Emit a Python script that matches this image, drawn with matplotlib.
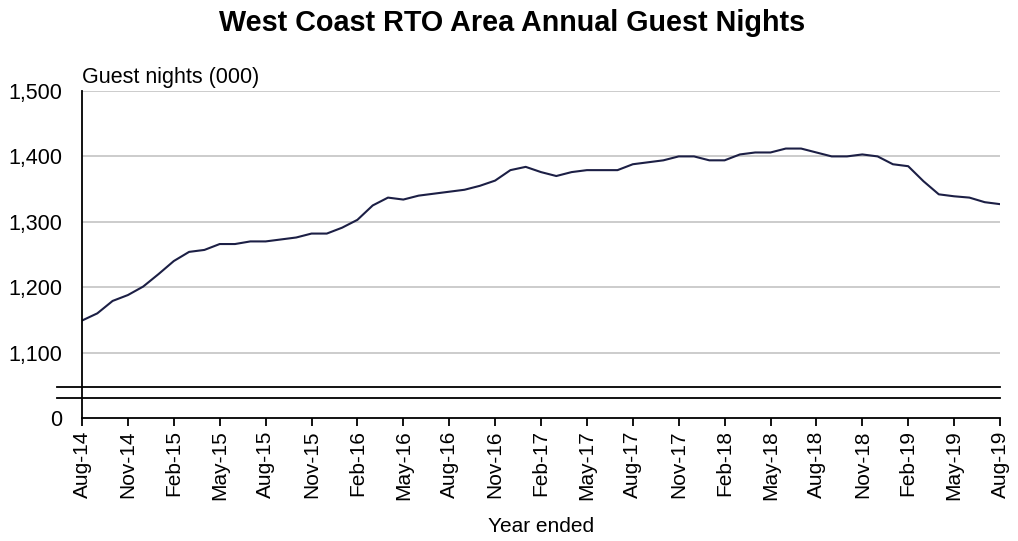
import matplotlib.pyplot as plt
import matplotlib.transforms as mtransforms

plt.rcParams['font.family'] = ['Liberation Sans', 'DejaVu Sans']

# monthly guest nights (000), year ended Aug-14 .. Aug-19
months = [
    "Aug-14", "Sep-14", "Oct-14", "Nov-14", "Dec-14", "Jan-15", "Feb-15", "Mar-15",
    "Apr-15", "May-15", "Jun-15", "Jul-15", "Aug-15", "Sep-15", "Oct-15", "Nov-15",
    "Dec-15", "Jan-16", "Feb-16", "Mar-16", "Apr-16", "May-16", "Jun-16", "Jul-16",
    "Aug-16", "Sep-16", "Oct-16", "Nov-16", "Dec-16", "Jan-17", "Feb-17", "Mar-17",
    "Apr-17", "May-17", "Jun-17", "Jul-17", "Aug-17", "Sep-17", "Oct-17", "Nov-17",
    "Dec-17", "Jan-18", "Feb-18", "Mar-18", "Apr-18", "May-18", "Jun-18", "Jul-18",
    "Aug-18", "Sep-18", "Oct-18", "Nov-18", "Dec-18", "Jan-19", "Feb-19", "Mar-19",
    "Apr-19", "May-19", "Jun-19", "Jul-19", "Aug-19",
]
guest_nights = [
    1149, 1160, 1179, 1188, 1201, 1220, 1240, 1254,
    1257, 1266, 1266, 1270, 1270, 1273, 1276, 1282,
    1282, 1291, 1303, 1325, 1337, 1334, 1340, 1343,
    1346, 1349, 1355, 1363, 1379, 1384, 1376, 1370,
    1376, 1379, 1379, 1379, 1388, 1391, 1394, 1400,
    1400, 1394, 1394, 1403, 1406, 1406, 1412, 1412,
    1406, 1400, 1400, 1403, 1400, 1388, 1385, 1362,
    1342, 1339, 1337, 1330, 1327,
]
y_ticks = [1000, 1100, 1200, 1300, 1400, 1500]
y_labels = ["0", "1,100", "1,200", "1,300", "1,400", "1,500"]
break_levels = [1031, 1047]

fig = plt.figure(figsize=(10.18, 5.41), dpi=100)
ax = fig.add_axes([82 / 1018, 1 - 418 / 541, 918 / 1018, 327 / 541])

x = list(range(len(months)))
for yv in y_ticks[1:]:
    ax.axhline(yv, color="#c8c8c8", lw=1.3, zorder=1)
ax.plot(x, guest_nights, color="#1c1f45", lw=1.5, zorder=3)

# axis break marks
trans = mtransforms.blended_transform_factory(ax.transAxes, ax.transData)
for yv in break_levels:
    ax.plot([-0.027, 1.0], [yv, yv], color="black", lw=1.3, transform=trans,
            clip_on=False, zorder=4)

ax.set_xlim(0, len(months) - 1)
ax.set_ylim(1000, 1500)
ax.set_yticks(y_ticks)
ax.set_yticklabels(y_labels, fontsize=15.5)
ax.tick_params(axis="y", length=0, pad=14)
ax.set_xticks(x[::3])
ax.set_xticklabels(months[::3], rotation=90, fontsize=15)
ax.tick_params(axis="x", length=6, width=1.3, direction="out", pad=3)

for side in ["top", "right"]:
    ax.spines[side].set_visible(False)
for side in ["left", "bottom"]:
    ax.spines[side].set_linewidth(1.3)
    ax.spines[side].set_zorder(5)

ax.text(0, 1.01, "Guest nights (000)", transform=ax.transAxes, fontsize=15.5,
        ha="left", va="bottom")
ax.set_xlabel("Year ended", fontsize=15, labelpad=12)
fig.text(0.503, 1 - 23 / 541, "West Coast RTO Area Annual Guest Nights",
         fontsize=20.7, fontweight="bold", ha="center", va="center")

fig.savefig("out.png", dpi=100)
